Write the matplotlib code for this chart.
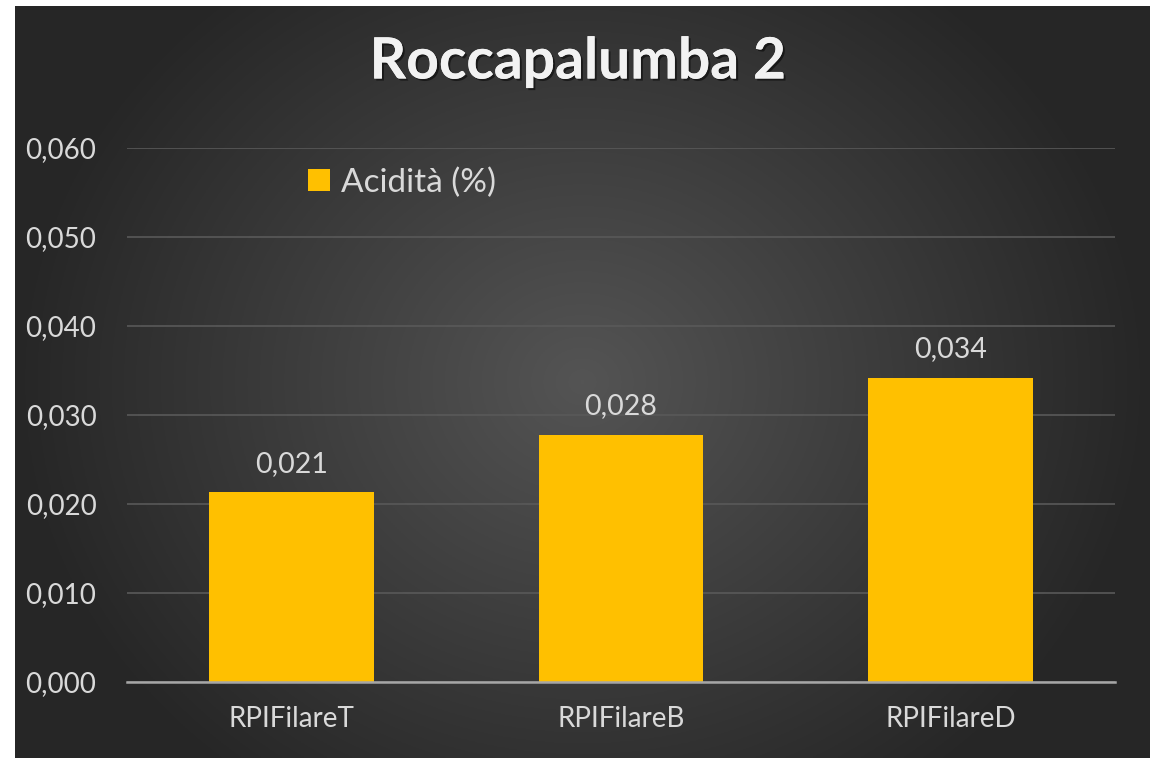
import numpy as np
import matplotlib.pyplot as plt
import matplotlib.patheffects as pe
from matplotlib.ticker import FuncFormatter

categories = ["RPIFilareT", "RPIFilareB", "RPIFilareD"]
acidity = [0.0213, 0.0278, 0.0342]
value_labels = ["0,021", "0,028", "0,034"]
yticks = [0.0, 0.01, 0.02, 0.03, 0.04, 0.05, 0.06]

W, H = 1156, 758
fig = plt.figure(figsize=(W / 100, H / 100), dpi=100)
fig.patch.set_facecolor("white")

# dark panel with radial gradient
bg = fig.add_axes([15 / W, 0, 1135 / W, 752 / H])
yy, xx = np.mgrid[-1:1:400j, -1:1:600j]
r = np.sqrt(xx ** 2 + (yy * 0.75) ** 2)
shade = np.clip(0.33 - 0.18 * r, 0.15, 0.33)
bg.imshow(np.dstack([shade, shade, shade]), aspect="auto", extent=[0, 1, 0, 1])
bg.set_axis_off()

plt.rcParams["font.family"] = ["Lato", "DejaVu Sans"]
txt = "#d9d9d9"

ax = fig.add_axes([127 / W, (H - 682) / H, 988 / W, (682 - 148) / H])
ax.set_facecolor("none")
x = np.arange(len(categories))
bars = ax.bar(x, acidity, width=0.5, color="#ffc000", zorder=3, label="Acidità (%)")
ax.set_xlim(-0.5, 2.5)
ax.set_ylim(0, 0.06)
ax.set_yticks(yticks)
ax.yaxis.set_major_formatter(FuncFormatter(lambda v, p: f"{v:.3f}".replace(".", ",")))
ax.set_xticks(x, categories)
ax.grid(axis="y", color="#595959", linewidth=1.2, zorder=0)
for s in ["top", "right", "left"]:
    ax.spines[s].set_visible(False)
ax.spines["bottom"].set_color("#a6a6a6")
ax.spines["bottom"].set_linewidth(1.8)
ax.spines["bottom"].set_zorder(4)
ax.tick_params(length=0, colors=txt, labelsize=20)
ax.tick_params(axis="y", pad=22)
ax.tick_params(axis="x", pad=17)

for b, lab in zip(bars, value_labels):
    ax.annotate(lab, (b.get_x() + b.get_width() / 2, b.get_height()),
                xytext=(0, 11), textcoords="offset points",
                ha="center", va="bottom", color=txt, fontsize=20.5)

leg = ax.legend(loc="upper left", bbox_to_anchor=(0.153, 1.02), frameon=False,
                fontsize=24, handlelength=0.65, handleheight=0.65, handletextpad=0.35)
for t in leg.get_texts():
    t.set_color(txt)

fig.text(0.5, (H - 62) / H, "Roccapalumba 2", ha="center", va="center",
         fontsize=41, fontweight="bold", color="#f2f2f2",
         path_effects=[pe.withSimplePatchShadow(offset=(1.5, -1.5), shadow_rgbFace="black", alpha=0.5),
                       pe.Normal()])

fig.savefig("out.png", dpi=100, facecolor=fig.get_facecolor())
